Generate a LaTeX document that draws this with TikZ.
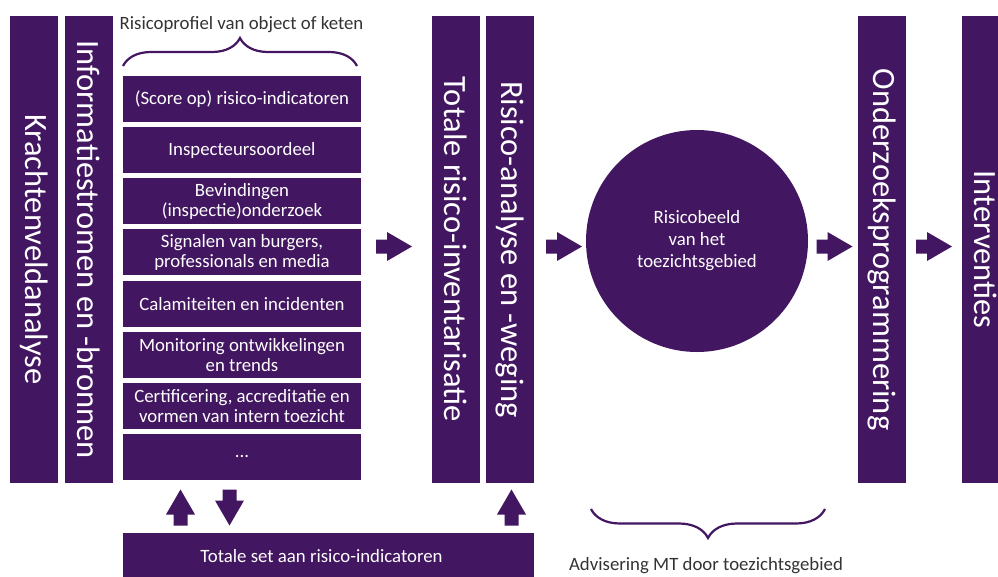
\documentclass[tikz,border=0pt]{standalone}
\usepackage{fontspec}
\setmainfont{Carlito}
\usetikzlibrary{decorations.pathreplacing}
\definecolor{ink}{HTML}{421660}
\definecolor{capt}{HTML}{333333}
\begin{document}
\begin{tikzpicture}[x=1pt,y=-1pt,
  every node/.style={font=\fontsize{18.8}{20}\selectfont,inner sep=0pt},
  column/.style={fill=ink,text=white,rotate=-90,minimum width=467pt,minimum height=48pt,
    font=\fontsize{32.5}{36}\selectfont},
  infobox/.style={fill=ink,text=white,minimum width=238pt,minimum height=46pt,align=center},
  curly/.style={draw=ink,line width=2.2pt,decorate,decoration={brace,amplitude=28pt}},
  pics/blockarrow/.style={code={
    \fill[ink] (-18,-7) -- (-7,-7) -- (-7,-14.5) -- (18,0) -- (-7,14.5) -- (-7,7) -- (-18,7) -- cycle;}}]
  \useasboundingbox (0,0) rectangle (998,576);

  % vertical columns
  \node[column] (kracht) at (34,249.5) {Krachtenveldanalyse\hspace{16pt}};
  \node[column] (info) at (89,249.5) {Informatiestromen en -bronnen};
  \node[column] (totaal) at (456,249.5) {Totale risico-inventarisatie};
  \node[column] (analyse) at (510,249.5) {Risico-analyse en -weging};
  \node[column] (onderzoek) at (882,249.5) {Onderzoeksprogrammering};
  \node[column] (interv) at (986,249.5) {Interventies};

  % risk profile items
  \foreach \txt [count=\i from 0] in {{(Score op) risico-indicatoren},Inspecteursoordeel,
      {Bevindingen\\(inspectie)onderzoek},{Signalen van burgers,\\professionals en media},
      Calamiteiten en incidenten,{Monitoring ontwikkelingen\\en trends},
      {Certificering, accreditatie en\\vormen van intern toezicht}}{
    \node[infobox] (item\i) at (242,99+\i*51.14) {\txt};
  }
  \node[infobox] (itemrest) at (242,99+7*51.14) {...};
  \node[text=capt] (profiel) at (241.5,25) {Risicoprofiel van object of keten};
  \draw[curly] (123,66) -- (357,66);

  % total set
  \node[infobox,minimum width=411pt,minimum height=47pt] (totaalset) at (328.5,556.5)
    {Totale set aan risico-indicatoren\hspace{14pt}};

  % risk picture
  \node[circle,fill=ink,text=white,minimum size=222pt,align=center,
    font=\fontsize{18.8}{22}\selectfont] (beeld) at (697,241)
    {Risicobeeld\\van het\\toezichtsgebied};
  \draw[curly,decoration={amplitude=29pt}] (825,509) -- (591,509);
  \node[text=capt] (advies) at (706,566) {Advisering MT door toezichtsgebied};

  % block arrows
  \pic at (394,246.5) {blockarrow};
  \pic at (564,246.5) {blockarrow};
  \pic at (834.5,246.5) {blockarrow};
  \pic at (934,246.5) {blockarrow};
  \pic[rotate=90] at (180.5,507.5) {blockarrow};
  \pic[rotate=-90] at (229.5,507.5) {blockarrow};
  \pic[rotate=90] at (511.5,507.5) {blockarrow};
\end{tikzpicture}
\end{document}
